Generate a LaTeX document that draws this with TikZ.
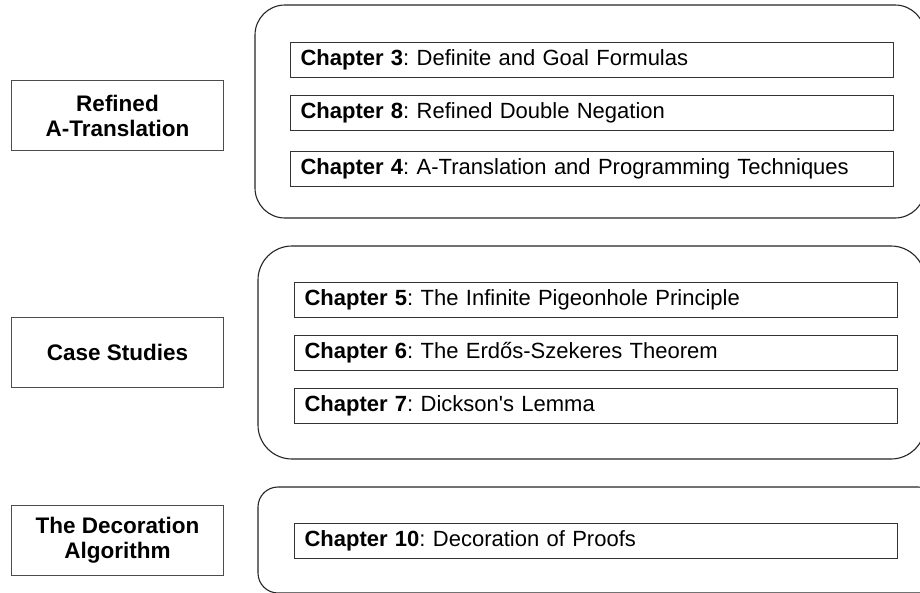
\documentclass[tikz,border=0pt]{standalone}
\usepackage{fontspec}
\setmainfont{Liberation Sans}
\begin{document}
\frenchspacing
\begin{tikzpicture}[x=1pt,y=-1pt,
  group/.style={draw=black!85,line width=1.1pt},
  chapbox/.style={draw=black!80,line width=1.1pt,anchor=north west,minimum width=603pt,minimum height=35pt,
    text width=583pt,inner xsep=10pt,inner ysep=0pt,align=left,font=\fontsize{22}{25}\selectfont},
  topicbox/.style={draw=black!70,line width=1pt,anchor=north west,minimum width=212pt,minimum height=70pt,
    align=center,inner sep=0pt,font=\fontsize{22.5}{25}\selectfont\bfseries}]
\useasboundingbox (0,0) rectangle (920,592);
\clip (0,0) rectangle (920,592);
\fill[white] (0,0) rectangle (920,592);
% groups
\draw[group,rounded corners=30pt] (255,5) rectangle (925,218);
\draw[group,rounded corners=34pt] (258,246) rectangle (925,459);
\draw[group,rounded corners=20pt] (258,487) rectangle (938,593);
% topics
\node[topicbox] (t1) at (11,80) {Refined\\A-Translation};
\node[topicbox] (t2) at (11,317) {Case Studies};
\node[topicbox] (t3) at (11,505) {The Decoration\\Algorithm};
% chapters
\node[chapbox] (c3) at (290,42) {\textbf{Chapter 3}: Definite and Goal Formulas};
\node[chapbox] (c8) at (290,95) {\textbf{Chapter 8}: Refined Double Negation};
\node[chapbox] (c4) at (290,151) {\textbf{Chapter 4}: A-Translation and Programming Techniques};
\node[chapbox] (c5) at (294,282) {\textbf{Chapter 5}: The Infinite Pigeonhole Principle};
\node[chapbox] (c6) at (294,335) {\textbf{Chapter 6}: The Erdős-Szekeres Theorem};
\node[chapbox] (c7) at (294,388) {\textbf{Chapter 7}: Dickson\textquotesingle s Lemma};
\node[chapbox] (c10) at (294,523) {\textbf{Chapter 10}: Decoration of Proofs};
\end{tikzpicture}
\end{document}
